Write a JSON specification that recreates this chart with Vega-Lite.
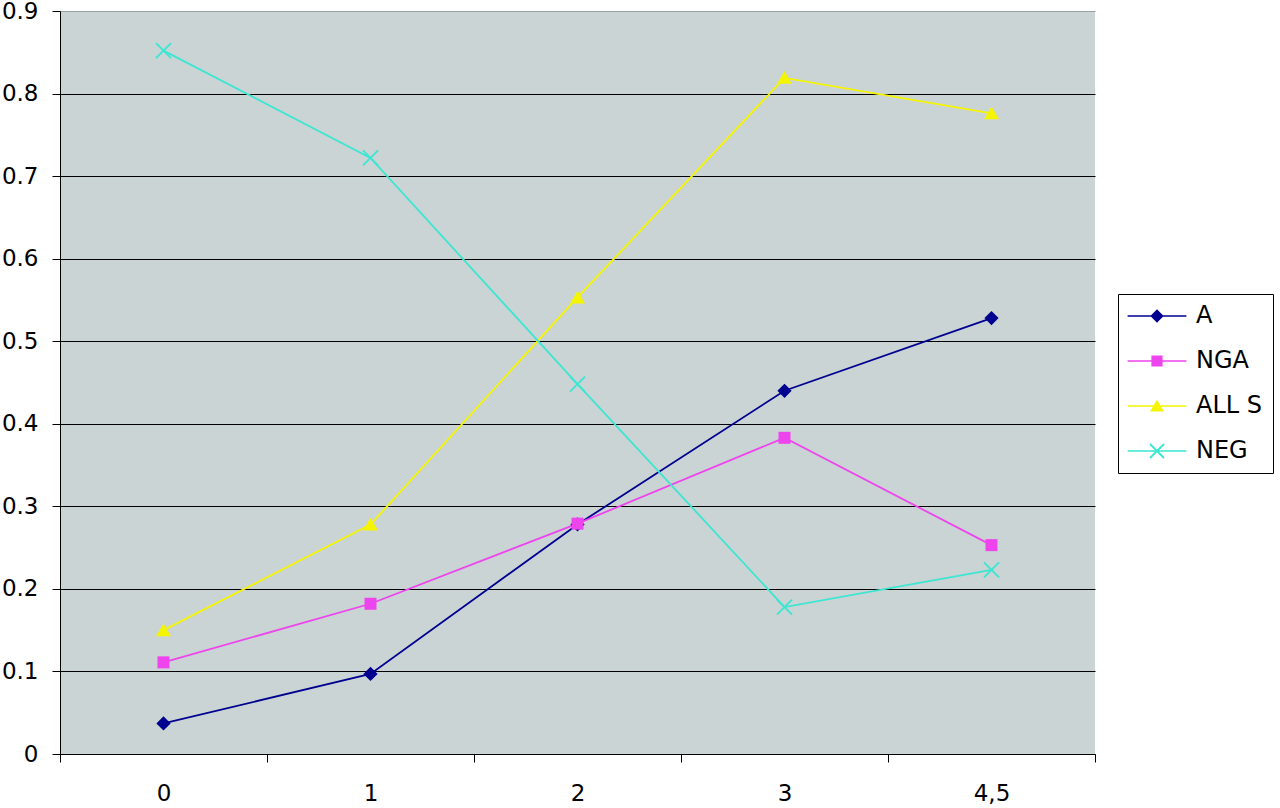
{
  "$schema": "https://vega.github.io/schema/vega-lite/v6.json",
  "width": 1035,
  "height": 743,
  "autosize": {"type": "none"},
  "padding": {"left": 60, "top": 11, "right": 185, "bottom": 54},
  "background": "white",
  "config": {
    "view": {"fill": "#CAD4D4", "stroke": null},
    "font": "DejaVu Sans"
  },
  "data": {
    "values": [
      {"x": "0", "series": "A", "v": 0.037},
      {"x": "1", "series": "A", "v": 0.097},
      {"x": "2", "series": "A", "v": 0.278},
      {"x": "3", "series": "A", "v": 0.440},
      {"x": "4,5", "series": "A", "v": 0.528},
      {"x": "0", "series": "NGA", "v": 0.111},
      {"x": "1", "series": "NGA", "v": 0.182},
      {"x": "2", "series": "NGA", "v": 0.279},
      {"x": "3", "series": "NGA", "v": 0.383},
      {"x": "4,5", "series": "NGA", "v": 0.253},
      {"x": "0", "series": "ALL S", "v": 0.150},
      {"x": "1", "series": "ALL S", "v": 0.278},
      {"x": "2", "series": "ALL S", "v": 0.553},
      {"x": "3", "series": "ALL S", "v": 0.819},
      {"x": "4,5", "series": "ALL S", "v": 0.776},
      {"x": "0", "series": "NEG", "v": 0.852},
      {"x": "1", "series": "NEG", "v": 0.722},
      {"x": "2", "series": "NEG", "v": 0.448},
      {"x": "3", "series": "NEG", "v": 0.178},
      {"x": "4,5", "series": "NEG", "v": 0.223}
    ]
  },
  "encoding": {
    "x": {
      "field": "x",
      "type": "ordinal",
      "sort": ["0", "1", "2", "3", "4,5"],
      "scale": {"type": "band", "paddingInner": 0, "paddingOuter": 0},
      "axis": {
        "title": null,
        "tickBand": "extent",
        "labelAngle": 0,
        "labelFont": "DejaVu Sans",
        "labelFontSize": 23,
        "labelColor": "black",
        "labelPadding": 20,
        "tickSize": 8,
        "tickColor": "black",
        "domainColor": "black",
        "grid": false
      }
    },
    "y": {
      "field": "v",
      "type": "quantitative",
      "scale": {"domain": [0, 0.9], "nice": false},
      "axis": {
        "title": null,
        "values": [0, 0.1, 0.2, 0.3, 0.4, 0.5, 0.6, 0.7, 0.8, 0.9],
        "format": ".1~f",
        "labelFont": "DejaVu Sans",
        "labelFontSize": 23,
        "labelColor": "black",
        "labelPadding": 14,
        "tickSize": 8,
        "tickColor": "black",
        "domainColor": "black",
        "grid": true,
        "gridColor": {"condition": {"test": "datum.value === 0.9", "value": "#9aa3a3"}, "value": "black"},
        "gridOpacity": 1
      }
    },
    "color": {
      "field": "series",
      "type": "nominal",
      "scale": {
        "domain": ["A", "NGA", "ALL S", "NEG"],
        "range": ["#000090", "#EE44EE", "#F5F500", "#3CE6D2"]
      },
      "legend": {
        "title": null,
        "orient": "none",
        "legendX": 1058,
        "legendY": 283,
        "strokeColor": "black",
        "fillColor": "white",
        "padding": 10,
        "symbolOffset": 17,
        "labelOffset": 27,
        "labelFont": "DejaVu Sans",
        "labelFontSize": 24,
        "labelColor": "black",
        "rowPadding": 21,
        "symbolSize": 196,
        "symbolStrokeWidth": 0,
        "symbolOpacity": 1,
        "encode": {
          "symbols": {
            "update": {
              "shape": {"signal": "datum.value === 'A' ? 'M-4.2,-0.12H4.2V0.12H-4.2ZM0,-0.95L0.95,0L0,0.95L-0.95,0Z' : datum.value === 'NGA' ? 'M-4.2,-0.12H4.2V0.12H-4.2ZM-0.8,-0.8H0.8V0.8H-0.8Z' : datum.value === 'ALL S' ? 'M-4.2,-0.12H4.2V0.12H-4.2ZM0,-0.9L1,0.8H-1Z' : 'M-4.2,-0.12H4.2V0.12H-4.2ZM-1.09,-0.91L-0.91,-1.09L1.09,0.91L0.91,1.09ZM0.91,-1.09L1.09,-0.91L-0.91,1.09L-1.09,0.91Z'"},
              "fill": {"signal": "scale('color', datum.value)"},
              "strokeWidth": {"value": 0}
            }
          }
        }
      }
    }
  },
  "layer": [
    {
      "mark": {"type": "line", "strokeWidth": 1.8}
    },
    {
      "mark": {"type": "point", "filled": true, "opacity": 1, "size": 225, "strokeWidth": 0},
      "encoding": {
        "shape": {
          "condition": [
            {"test": "datum.series === 'A'", "value": "M0,-0.95L0.95,0L0,0.95L-0.95,0Z"},
            {"test": "datum.series === 'NGA'", "value": "M-0.8,-0.8H0.8V0.8H-0.8Z"},
            {"test": "datum.series === 'ALL S'", "value": "M0,-0.9L1,0.8H-1Z"}
          ],
          "value": "M-1.09,-0.91L-0.91,-1.09L1.09,0.91L0.91,1.09ZM0.91,-1.09L1.09,-0.91L-0.91,1.09L-1.09,0.91Z"
        }
      }
    }
  ]
}
